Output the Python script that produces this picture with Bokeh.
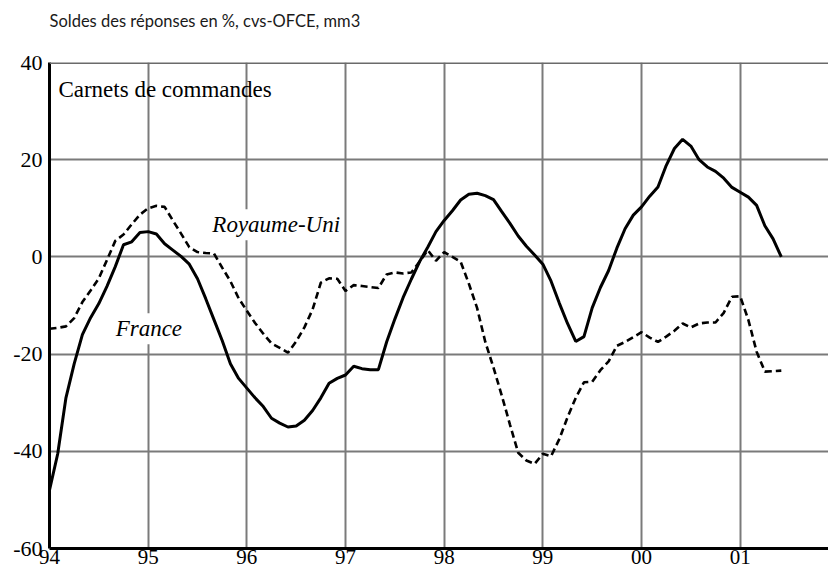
from bokeh.plotting import figure
from bokeh.models import FixedTicker, Label, Span, Range1d
from bokeh.embed import file_html
from bokeh.resources import INLINE

# Monthly data, January 1994 to June 2001 (balance of responses, %)
france = [-48, -40.5, -29, -22, -16, -12.5, -9.6, -6, -2, 2.5,
          3.1, 5, 5.2, 4.7, 2.7, 1.4, 0.1, -1.5, -4.5, -8.6,
          -12.9, -17.2, -22, -25, -27, -29, -30.8, -33.2, -34.2, -35,
          -34.8, -33.6, -31.6, -29, -26, -25, -24.3, -22.5, -23, -23.2,
          -23.2, -17.5, -12.8, -8.4, -4.6, -1, 2, 5.2, 7.5, 9.5,
          11.7, 12.9, 13.1, 12.6, 11.8, 9.3, 6.9, 4.3, 2.2, 0.4,
          -1.5, -5, -9.5, -13.7, -17.4, -16.4, -10.5, -6.3, -2.8, 1.8,
          5.8, 8.6, 10.3, 12.5, 14.4, 18.8, 22.3, 24.2, 22.8, 20,
          18.5, 17.6, 16.2, 14.3, 13.3, 12.3, 10.6, 6.4, 3.7, 0]

royaume_uni = [-14.8, -14.6, -14.3, -12.6, -9.3, -6.9, -4.4, -0.6, 3.3, 4.6,
               6.7, 8.7, 10, 10.5, 10.3, 7.5, 4.8, 2, 1, 0.8,
               0.7, -2.2, -5, -8.5, -11.1, -13.6, -15.8, -17.8, -18.7, -19.7,
               -17.4, -14.5, -10.8, -5.3, -4.4, -4.5, -7, -5.8, -6, -6.2,
               -6.4, -3.6, -3.2, -3.4, -3.2, -1, 1.4, -0.8, 1, 0,
               -1, -5.5, -10.5, -17.5, -22.8, -28.5, -34.5, -40.3, -41.9, -42.6,
               -40.5, -41, -37.5, -33, -29, -25.8, -25.7, -23.3, -21.5, -18.3,
               -17.5, -16.5, -15.5, -16.6, -17.5, -16.4, -15.2, -13.7, -14.5, -13.7,
               -13.5, -13.5, -11.5, -8.2, -8.1, -13, -19.5, -23.6, -23.5, -23.4]

start_year = 94
x = [start_year + m / 12 for m in range(len(france))]

year_ticks = [94, 95, 96, 97, 98, 99, 100, 101]
year_labels = ["94", "95", "96", "97", "98", "99", "00", "01"]
y_ticks = [-60, -40, -20, 0, 20, 40]
y_labels = ["-60", "-40", "-20", "0", "20", "40"]

title_text = "Soldes des réponses en %, cvs-OFCE, mm3"
panel_text = "Carnets de commandes"
label_uk = "Royaume-Uni"
label_fr = "France"

p = figure(width=828, height=576,
           x_range=Range1d(94, 101.895), y_range=Range1d(-60, 40),
           output_backend="svg", toolbar_location=None,
           min_border_left=49, min_border_right=0,
           min_border_top=61, min_border_bottom=28)

# a blank second line keeps the title high above the frame, as in the original
p.title.text = title_text + "\n "
p.title.text_font = "Lato"
p.title.text_font_size = "16.5px"
p.title.text_font_style = "normal"
p.title.text_color = "#1a1a1a"
p.title.align = "left"
p.title.vertical_align = "top"
p.title.standoff = 20

p.outline_line_color = None
p.background_fill_color = "white"
p.border_fill_color = "white"

for ax in (p.xaxis, p.yaxis):
    ax.axis_line_width = 3
    ax.axis_line_color = "black"
    ax.major_tick_out = 0
    ax.major_tick_in = 0
    ax.minor_tick_line_color = None
    ax.major_label_text_font = "Liberation Serif"
    ax.major_label_text_font_size = "21px"
    ax.major_label_text_color = "black"

p.xaxis.ticker = FixedTicker(ticks=year_ticks)
p.xaxis.major_label_overrides = dict(zip(year_ticks, year_labels))
p.xaxis.major_label_standoff = 1
p.yaxis.ticker = FixedTicker(ticks=y_ticks)
p.yaxis.major_label_overrides = dict(zip(y_ticks, y_labels))
p.yaxis.major_label_standoff = 7
p.yaxis.major_label_text_font_size = "22px"

p.xgrid.ticker = FixedTicker(ticks=year_ticks)
p.ygrid.ticker = FixedTicker(ticks=y_ticks)
for g in (p.xgrid, p.ygrid):
    g.grid_line_color = "#7a7a7a"
    g.grid_line_width = 2

p.add_layout(Span(location=40, dimension="width", line_color="#6a6a6a", line_width=3))

p.line(x, france, line_color="black", line_width=3)
p.line(x, royaume_uni, line_color="black", line_width=2.6, line_dash="7 4")

p.add_layout(Label(x=94.09, y=34.4, text=panel_text, text_font="Liberation Serif",
                   text_font_size="23px", text_color="black", text_baseline="alphabetic"))
p.add_layout(Label(x=95.62, y=6.6, text=label_uk, text_font="Liberation Serif",
                   text_font_size="23px", text_font_style="italic", text_color="black",
                   text_baseline="alphabetic", background_fill_color="white", padding=3))
p.add_layout(Label(x=94.64, y=-14.8, text=label_fr, text_font="Liberation Serif",
                   text_font_size="23px", text_font_style="italic", text_color="black",
                   text_baseline="alphabetic", background_fill_color="white", padding=3))

open("out.html", "w").write(file_html(p, INLINE))
